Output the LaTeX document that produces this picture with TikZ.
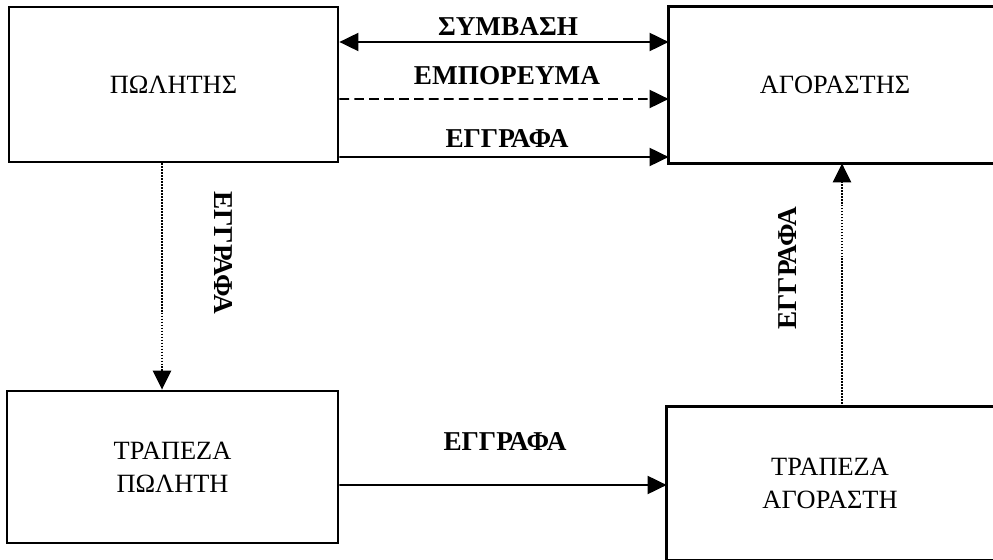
\documentclass[tikz,border=0pt]{standalone}
\usepackage{fontspec}
\setmainfont{Liberation Serif}
\usetikzlibrary{arrows.meta,calc}

\begin{document}
\begin{tikzpicture}[x=0.02cm, y=-0.02cm,
    party/.style={draw, line width=1.6pt, align=center, font=\fontsize{15}{19}\selectfont},
    openparty/.style={party, draw=none},
    frame/.style={line width=1.6pt},
    flow/.style={line width=1.1pt, -{Triangle[length=0.38cm, width=0.36cm]}},
    flowlabel/.style={font=\fontsize{15.5}{18}\selectfont\bfseries},
    dotline/.style={line width=1.4pt, dash pattern=on 1pt off 0.7pt}]

      % Frame of the page
      \useasboundingbox (0,0) rectangle (993,560);
      \clip (0,0) rectangle (993,560);

      % Seller and buyer
      \node[party, minimum width=6.58cm, minimum height=3.1cm] (slr) at (173.5,84.5) {ΠΩΛΗΤΗΣ};
      \node[openparty, minimum width=6.6cm, minimum height=3.08cm] (byr) at (835,85) {ΑΓΟΡΑΣΤΗΣ};

      % Banks
      \node[party, minimum width=6.62cm, minimum height=3.04cm] (bks) at (172.5,467) {ΤΡΑΠΕΖΑ\\ΠΩΛΗΤΗ};
      \node[openparty, minimum width=6.48cm, minimum height=3.02cm] (bkb) at (830,483.5) {ΤΡΑΠΕΖΑ\\ΑΓΟΡΑΣΤΗ};

      % Boxes cut by the right edge
      \draw[frame] ($(byr.north east)+(20,0)$) -- (byr.north west) -- (byr.south west) -- ($(byr.south east)+(20,0)$);
      \draw[frame] ($(bkb.north east)+(20,0)$) -- (bkb.north west) -- (bkb.south west) -- ($(bkb.south east)+(20,0)$);

      % Seller -- buyer
      \draw[flow, {Triangle[length=0.38cm, width=0.36cm]}-{Triangle[length=0.38cm, width=0.36cm]}]
        ($(slr.east)+(0,-42.5)$) -- ($(byr.west)+(0,-43)$);
      \draw[flow, dashed, dash pattern=on 5.5pt off 3pt] ($(slr.east)+(0,14.5)$) -- ($(byr.west)+(0,14)$);
      \draw[flow] ($(slr.east)+(0,72.5)$) -- ($(byr.west)+(0,72)$);

      % Banks
      \draw[flow, dotline] ($(slr.south)+(-11.5,0)$) -- ($(bks.north)+(-10.5,0)$);
      \draw[flow] ($(bks.east)+(0,18)$) -- ($(bkb.west)+(0,1.5)$);
      \draw[flow, dotline] ($(bkb.north)+(12,0)$) -- ($(byr.south)+(7,0)$);

      % Labels
      \node[flowlabel] (lcon) at (508,27) {ΣΥΜΒΑΣΗ};
      \node[flowlabel] (lgds) at (507,76) {ΕΜΠΟΡΕΥΜΑ};
      \node[flowlabel] (ldoc) at (507,139) {ΕΓΓΡΑΦΑ};
      \node[flowlabel, rotate=-90] (ldwn) at (223,253) {ΕΓΓΡΑΦΑ};
      \node[flowlabel] (lbnk) at (505,442) {ΕΓΓΡΑΦΑ};
      \node[flowlabel, rotate=90] (lup) at (787,268) {ΕΓΓΡΑΦΑ};

    \end{tikzpicture}
\end{document}
